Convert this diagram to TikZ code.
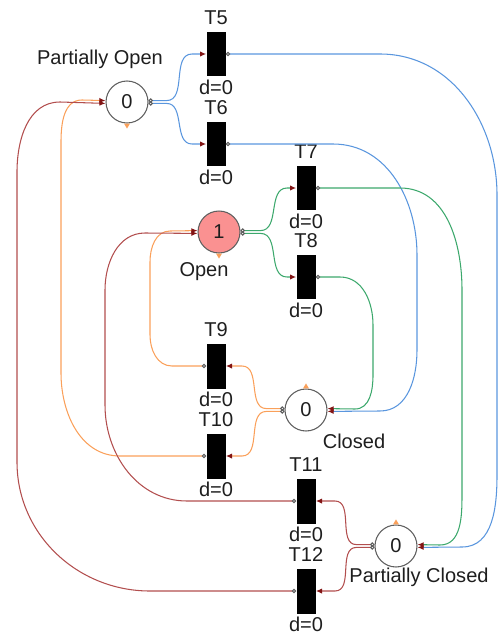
\documentclass[tikz,border=0pt]{standalone}
\usepackage{fontspec}
\setmainfont{Liberation Sans}
\usetikzlibrary{arrows.meta}
\definecolor{arcblue}{RGB}{90,150,222}
\definecolor{arcgreen}{RGB}{60,168,108}
\definecolor{arcorange}{RGB}{250,160,90}
\definecolor{arcred}{RGB}{178,78,78}
\definecolor{tipred}{RGB}{130,20,20}
\definecolor{placegray}{RGB}{95,95,95}
\definecolor{openred}{RGB}{250,145,145}
\definecolor{textgray}{RGB}{30,30,30}

\begin{document}
\begin{tikzpicture}[x=0.02cm,y=-0.02cm,
	place/.style={circle,draw=placegray,line width=0.6pt,fill=white,minimum size=0.84cm,inner sep=0pt},
	trans/.style={rectangle,fill=black,minimum width=0.38cm,minimum height=0.9cm,inner sep=0pt,label distance=0pt},
	arc/.style={line width=0.6pt,{Circle[open,length=2.5pt,width=2.5pt,color=placegray]}-{Latex[length=3.5pt,width=3pt,color=tipred]}},
	tick mark/.style={fill=arcorange}]
	\tikzstyle{every node}=[font=\fontsize{11.4}{13}\selectfont,text=textgray]
	\useasboundingbox (0,0) rectangle (500,635);
	% places
	\draw
		(127,102) node[place](po) {0}
		(219,232) node[place,fill=openred](open) {1}
		(306,410) node[place](closed) {0}
		(396,546) node[place](pc) {0};
	\draw
		(100,59) node(lpo) {Partially Open}
		(204,272) node(lopen) {Open}
		(354,441) node(lclosed) {Closed}
		(419,577) node(lpc) {Partially Closed};
	% transitions
	\draw
		(216,54) node[trans,label=above:T5,label={[label distance=-1.5pt]below:d=0}](t5) {}
		(216,144) node[trans,label=above:T6,label={[label distance=-1.5pt]below:d=0}](t6) {}
		(306,188) node[trans,label=above:T7,label={[label distance=-1.5pt]below:d=0}](t7) {}
		(306,277) node[trans,label=above:T8,label={[label distance=-1.5pt]below:d=0}](t8) {}
		(216,366) node[trans,label=above:T9,label={[label distance=-1.5pt]below:d=0}](t9) {}
		(216,456) node[trans,label=above:T10,label={[label distance=-1.5pt]below:d=0}](t10) {}
		(306,501) node[trans,label=above:T11,label={[label distance=-1.5pt]below:d=0}](t11) {}
		(306,591) node[trans,label=above:T12,label={[label distance=-1.5pt]below:d=0}](t12) {};
	% small markers on the places
	\fill[tick mark] (po.south) +(-3,0) -- +(3,0) -- +(0,5) -- cycle;
	\fill[tick mark] (open.south) +(-3,0) -- +(3,0) -- +(0,5) -- cycle;
	\fill[tick mark] (closed.north) +(-3,0) -- +(3,0) -- +(0,-5) -- cycle;
	\fill[tick mark] (pc.north) +(-3,0) -- +(3,0) -- +(0,-5) -- cycle;
	% partially open
	\draw[arc,arcblue] ([yshift=.8pt]po.east) -- ++(18,0) to[out=0,in=180] (192,54) -- (t5.west);
	\draw[arc,arcblue] ([yshift=-.8pt]po.east) -- ++(18,0) to[out=0,in=180] (192,144) -- (t6.west);
	\draw[arc,arcblue] (t5.east) -- (380,54) to[out=0,in=90] (497,195) -- (497,475) to[out=-90,in=0] (462,547) -- ([yshift=-.8pt]pc.east);
	\draw[arc,arcblue] (t6.east) -- (333,144) to[out=0,in=90] (417,255) -- (417,350) to[out=-90,in=0] (380,411) -- ([yshift=-.8pt]closed.east);
	% open
	\draw[arc,arcgreen] ([yshift=.8pt]open.east) -- ++(20,0) to[out=0,in=180] (287,188) -- (t7.west);
	\draw[arc,arcgreen] ([yshift=-.8pt]open.east) -- ++(20,0) to[out=0,in=180] (287,277) -- (t8.west);
	\draw[arc,arcgreen] (t7.east) -- (400,188) to[out=0,in=90] (462,290) -- (462,495) to[out=-90,in=0] (440,545) -- ([yshift=.8pt]pc.east);
	\draw[arc,arcgreen] (t8.east) -- (340,277) to[out=0,in=90] (373,325) -- (373,375) to[out=-90,in=0] (355,409) -- ([yshift=.8pt]closed.east);
	% closed
	\draw[arc,arcorange] ([yshift=.8pt]closed.west) -- ++(-18,0) to[out=180,in=0] (242,366) -- (t9.east);
	\draw[arc,arcorange] ([yshift=-.8pt]closed.west) -- ++(-18,0) to[out=180,in=0] (242,456) -- (t10.east);
	\draw[arc,arcorange] (t9.west) -- (172,366) to[out=180,in=-90] (150,335) -- (150,262) to[out=90,in=180] (170,231) -- ([yshift=.8pt]open.west);
	\draw[arc,arcorange] (t10.west) -- (120,456) to[out=180,in=-90] (61,373) -- (61,142) to[out=90,in=180] (82,100) -- ([yshift=.8pt]po.west);
	% partially closed
	\draw[arc,arcred] ([yshift=.8pt]pc.west) -- ++(-18,0) to[out=180,in=0] (335,501) -- (t11.east);
	\draw[arc,arcred] ([yshift=-.8pt]pc.west) -- ++(-18,0) to[out=180,in=0] (335,591) -- (t12.east);
	\draw[arc,arcred] (t11.west) -- (187,501) to[out=180,in=-90] (105,405) -- (105,290) to[out=90,in=180] (145,233) -- ([yshift=-.8pt]open.west);
	\draw[arc,arcred] (t12.west) -- (150,591) to[out=180,in=-90] (17,462) -- (17,172) to[out=90,in=180] (60,102) -- ([yshift=-.8pt]po.west);
\end{tikzpicture}
\end{document}
